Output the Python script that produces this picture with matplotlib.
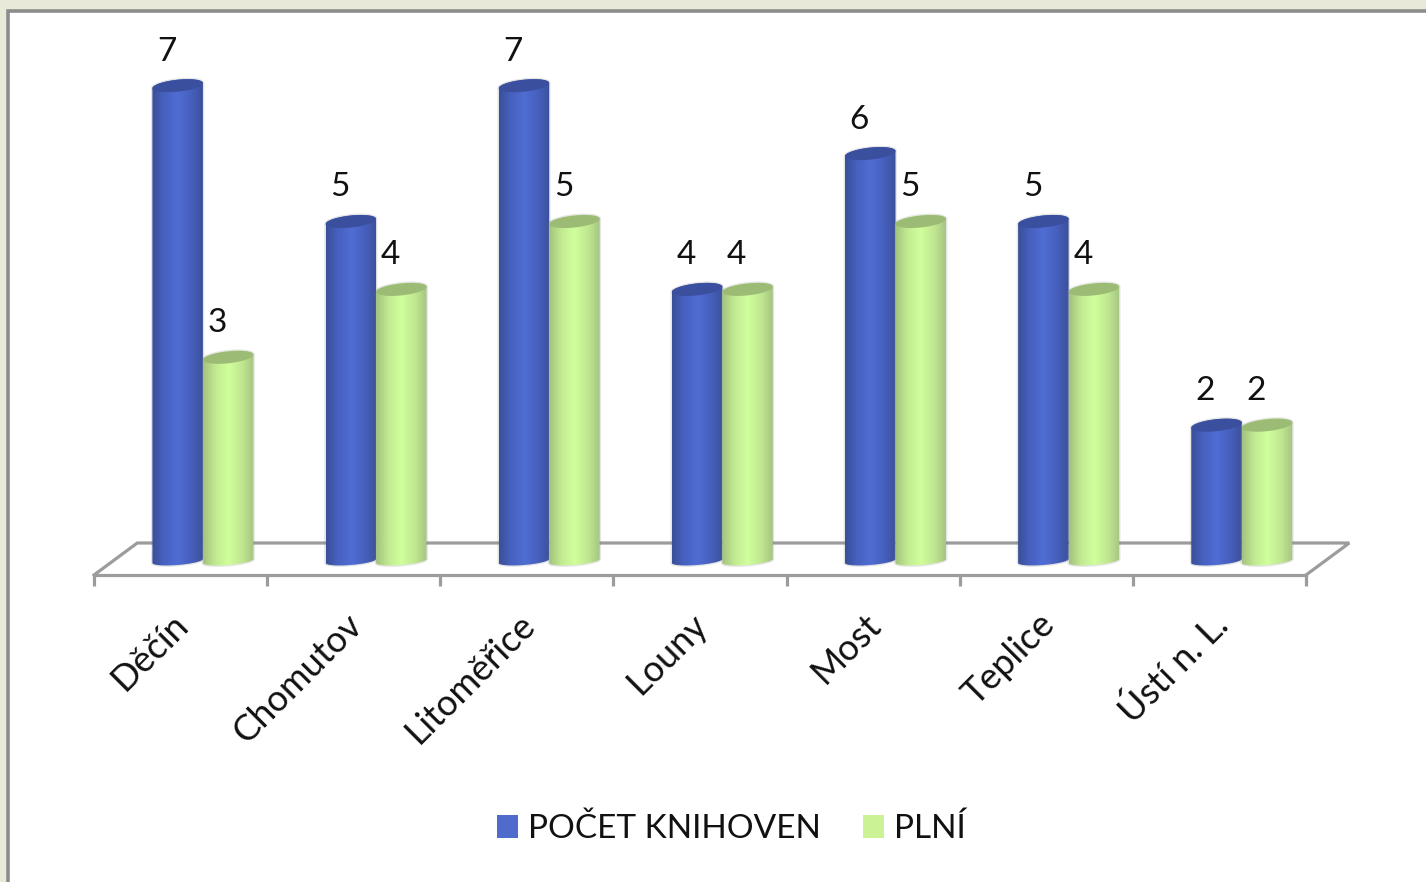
import numpy as np
import matplotlib
matplotlib.use("Agg")
import matplotlib.pyplot as plt
from matplotlib.colors import LinearSegmentedColormap
from matplotlib.patches import Patch, Polygon, Rectangle
from matplotlib.transforms import ScaledTranslation

categories = ["Děčín", "Chomutov", "Litoměřice", "Louny", "Most", "Teplice", "Ústí n. L."]
series_names = ["POČET KNIHOVEN", "PLNÍ"]
pocet_knihoven = [7, 5, 7, 4, 6, 5, 2]
plni = [3, 4, 5, 4, 5, 4, 2]

W, H = 1426, 882
plt.rcParams["font.family"] = ["Lato", "DejaVu Sans"]
FS = 24

fig = plt.figure(figsize=(W / 100, H / 100), dpi=100, facecolor="#E9E9DA")
fig.add_artist(Rectangle((8 / W, -0.02), 1.02, 1.02 - 11 / H, transform=fig.transFigure,
                         facecolor="white", edgecolor="#8C8C8C", linewidth=2.6, zorder=-5))

ax = fig.add_axes([94 / W, 1 - 575 / H, (1306 - 94) / W, 575 / H])
ax.patch.set_alpha(0)
PX_Y = 67.9
PX_X = (1306 - 94) / 7
ymin, ymax = -14 / PX_Y, 561 / PX_Y
ax.set_xlim(-0.5, 6.5)
ax.set_ylim(ymin, ymax)
for s in ("top", "left", "right"):
    ax.spines[s].set_visible(False)
LINE = "#9C9C9C"
ax.spines["bottom"].set_color(LINE)
ax.spines["bottom"].set_linewidth(2.3)
ax.set_yticks([])
ax.set_xticks(range(len(categories)))
ax.set_xticklabels(categories, rotation=45, ha="right", rotation_mode="anchor", fontsize=26, color="#111111")
ax.tick_params(axis="x", which="major", length=0, pad=25)
ax.set_xticks(np.arange(-0.5, 7, 1), minor=True)
ax.tick_params(axis="x", which="minor", length=8, width=2.3, color=LINE)
label_shift = ScaledTranslation(-9 / 100, 2 / 100, fig.dpi_scale_trans)
for lab in ax.get_xticklabels():
    lab.set_transform(lab.get_transform() + label_shift)

# floor of the 3D chart
depth = 0.25
back = 18 / PX_Y
ax.plot([-0.5, -0.5 + depth, 6.5 + depth, 6.5], [ymin, back, back, ymin], color=LINE, lw=2.3,
        clip_on=False, zorder=1, solid_joinstyle="miter")

blue_cm = LinearSegmentedColormap.from_list("b", [(0, "#3A4F96"), (0.22, "#4660BE"), (0.5, "#506DD4"),
                                                  (0.78, "#465FBC"), (1, "#3B509A")])
green_cm = LinearSegmentedColormap.from_list("g", [(0, "#A2C27E"), (0.25, "#C3EB92"), (0.5, "#D0FF9C"),
                                                   (0.78, "#C0E690"), (1, "#A5C482")])
caps = ["#3A4F9E", "#9CBC76"]
legend_colors = ["#4F6BCB", "#CBF396"]
cms = [blue_cm, green_cm]

width = 50.5 / PX_X
shift = 0.129
a = width / 2
b_top, k_top = 6 / PX_Y, 2.6 / PX_Y
b_low, k_low = 4 / PX_Y, 2 / PX_Y
t = np.linspace(0, np.pi, 40)
grad = np.linspace(0, 1, 256).reshape(1, -1)

for s, vals in enumerate([pocet_knihoven, plni]):
    xs = np.arange(len(vals)) + shift + (s - 0.5) * width
    bars = ax.bar(xs, vals, width=width, color="none", edgecolor="none")
    for i, (rect, v) in enumerate(zip(bars, vals)):
        x0, x1 = rect.get_x(), rect.get_x() + rect.get_width()
        xc = (x0 + x1) / 2
        z = 3 + i * 2 + s * 0.5
        top_x = xc + a * np.cos(t)
        top_y = v + b_top * np.sin(t) + k_top * np.cos(t)
        low_x = xc - a * np.cos(t)
        low_y = -b_low * np.sin(t) - k_low * np.cos(t)
        verts = np.column_stack([np.r_[top_x, low_x], np.r_[top_y, low_y]])
        ax.add_patch(Polygon(verts, closed=True, facecolor="none", edgecolor="#808080",
                             alpha=0.20, lw=2.0, zorder=z - 0.2, clip_on=False))
        im = ax.imshow(grad, extent=[x0, x1, ymin, v + 0.2], aspect="auto", cmap=cms[s], zorder=z)
        patch = Polygon(verts, closed=True, transform=ax.transData, facecolor="none", edgecolor="none")
        im.set_clip_path(patch)
        cap_y = v - b_top * np.sin(t[::-1]) + k_top * np.cos(t[::-1])
        cap = np.column_stack([np.r_[top_x, top_x[::-1]], np.r_[top_y, cap_y]])
        ax.add_patch(Polygon(cap, closed=True, facecolor=caps[s], edgecolor="none", zorder=z + 0.1))
        ax.annotate(str(v), (xc, v), xytext=(-11 * 0.72, 34 * 0.72), textcoords="offset points",
                    ha="center", va="center", fontsize=FS, color="#111111", zorder=40)
ax.set_xlim(-0.5, 6.5)
ax.set_ylim(ymin, ymax)

handles = [Patch(facecolor=c, edgecolor="none") for c in legend_colors]
fig.legend(handles, series_names, loc="center", bbox_to_anchor=(731 / W, 1 - 829 / H), ncol=2, frameon=False,
           fontsize=FS, handlelength=0.63, handleheight=0.7, handletextpad=0.3, columnspacing=1.26,
           labelcolor="#111111", borderpad=0)

fig.savefig("out.png", dpi=100, facecolor=fig.get_facecolor())
